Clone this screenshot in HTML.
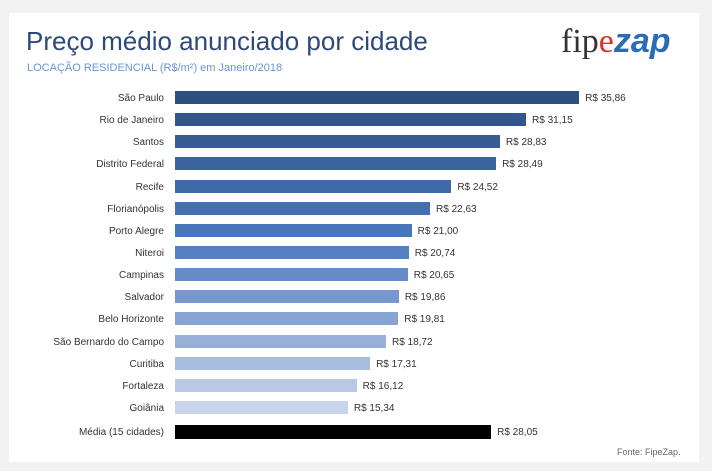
<!DOCTYPE html>
<html><head><meta charset="utf-8"><style>
body{margin:0;width:712px;height:471px;background:#f2f2f2;font-family:"Liberation Sans",sans-serif;overflow:hidden}
.card{position:absolute;left:9px;top:13px;width:690px;height:449px;background:#fff}
.t{position:absolute;left:26px;top:26px;font-size:26px;color:#2e4a78;white-space:nowrap}
.s{position:absolute;left:27px;top:62px;font-size:11px;color:#6a95cf}
.logo{position:absolute;left:561px;top:22px;font-size:34px;font-family:"Liberation Serif",serif;color:#333}
.logo b{font-family:"Liberation Sans",sans-serif;font-style:italic;color:#2a6cb5}
.row{position:absolute;left:0;width:712px;height:14px}
.lab{position:absolute;left:4px;width:160px;text-align:right;font-size:10px;color:#333;top:2px;line-height:14px;white-space:nowrap}
.bar{position:absolute;left:175px;top:1px;height:13px}
.val{position:absolute;font-size:10px;color:#333;line-height:14px;top:2px;white-space:nowrap}
.f{position:absolute;left:617px;top:447px;font-size:9px;color:#666}
</style></head><body>
<div class="card"></div>
<div class="t">Preço médio anunciado por cidade</div>
<div class="s">LOCAÇÃO RESIDENCIAL (R$/m²) em Janeiro/2018</div>
<div class="logo">fip<span style="color:#d9332a">e</span><b>zap</b></div>
<div id="c"></div>
<div class="f">Fonte: FipeZap.</div>
<script>
var d=[["São Paulo",35.86,"35,86"],["Rio de Janeiro",31.15,"31,15"],["Santos",28.83,"28,83"],["Distrito Federal",28.49,"28,49"],["Recife",24.52,"24,52"],["Florianópolis",22.63,"22,63"],["Porto Alegre",21.00,"21,00"],["Niteroi",20.74,"20,74"],["Campinas",20.65,"20,65"],["Salvador",19.86,"19,86"],["Belo Horizonte",19.81,"19,81"],["São Bernardo do Campo",18.72,"18,72"],["Curitiba",17.31,"17,31"],["Fortaleza",16.12,"16,12"],["Goiânia",15.34,"15,34"]];
var h="",c1=[46,80,128],cm=[74,120,190],c2=[200,212,235];
function mix(a,b,t){return a.map(function(v,k){return Math.round(v+(b[k]-v)*t)}).join(",")}
d.forEach(function(r,i){var t=i/14,col="rgb("+(t<0.45?mix(c1,cm,t/0.45):mix(cm,c2,(t-0.45)/0.55))+")";
var w=r[1]*11.27,y=90+i*22.14;
h+='<div class="row" style="top:'+y+'px"><div class="lab">'+r[0]+'</div><div class="bar" style="width:'+w+'px;background:'+col+'"></div><div class="val" style="left:'+(181+w)+'px">R$ '+r[2]+'</div></div>';});
var w=28.05*11.27;
h+='<div class="row" style="top:424px"><div class="lab">Média (15 cidades)</div><div class="bar" style="width:'+w+'px;background:#000;height:14px"></div><div class="val" style="left:'+(181+w)+'px">R$ 28,05</div></div>';
document.getElementById("c").innerHTML=h;
</script>
</body></html>
